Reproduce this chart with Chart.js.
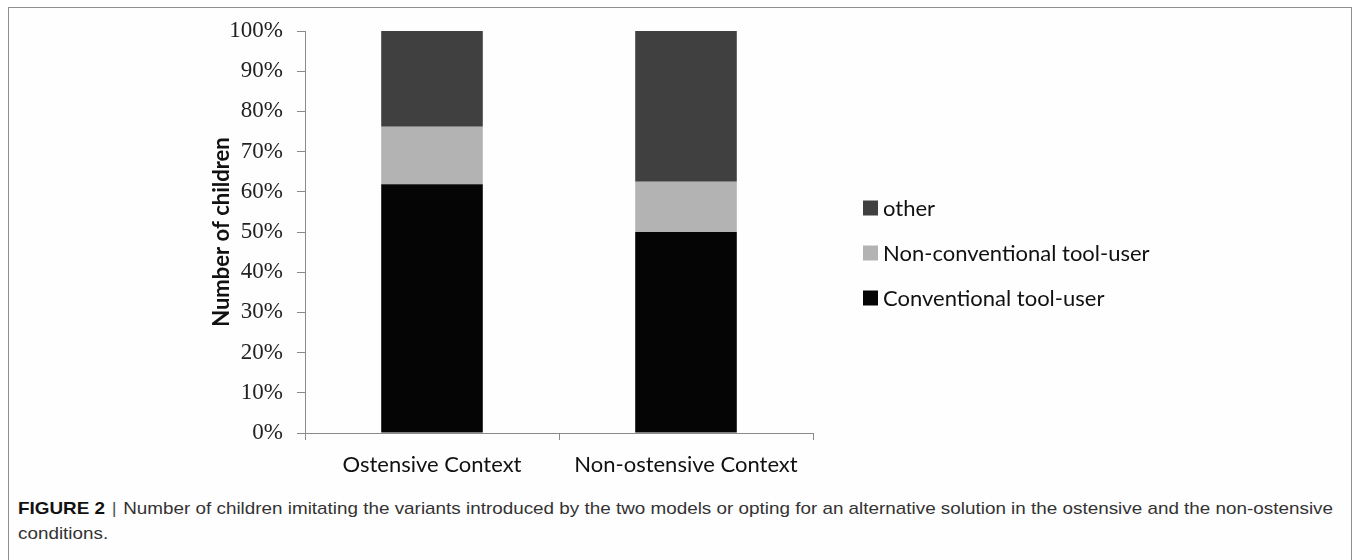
<!DOCTYPE html>
<html>
<head>
<meta charset="utf-8">
<script src="https://cdn.jsdelivr.net/npm/chart.js@4.4.1/dist/chart.umd.min.js"></script>
<style>
  html, body { margin: 0; padding: 0; background: #ffffff; width: 1354px; height: 560px; overflow: hidden; }
  #frame { position: absolute; left: 8px; top: 7px; width: 1344px; height: 600px; border: 1px solid #8f8f8f; background: #fefefe; box-sizing: border-box; }
  #chart { position: absolute; left: 0; top: 0; }
  #caption { position: absolute; left: 18px; top: 496px; font-family: "Liberation Sans Narrow", "Liberation Sans", Arial, sans-serif; font-size: 17px; line-height: 25px; color: #333; white-space: nowrap; transform-origin: 0 0; }
  #caption b { color: #111; }
  #caption .sep { color: #555; padding: 0 6px; }
</style>
</head>
<body>
<div id="frame"></div>
<canvas id="chart" width="1354" height="490"></canvas>
<div id="caption"><span id="line1"><b>FIGURE 2</b><span class="sep">|</span>Number of children imitating the variants introduced by the two models or opting for an alternative solution in the ostensive and the non-ostensive</span><br><span id="line2">conditions.</span></div>
<script>
// ---- data ----
const categories = ["Ostensive Context", "Non-ostensive Context"];
const seriesNames = ["Conventional tool-user", "Non-conventional tool-user", "other"];
const conventional = [61.9, 50.0];
const nonConventional = [14.3, 12.5];
const other = [23.8, 37.5];
const yTickValues = [0, 10, 20, 30, 40, 50, 60, 70, 80, 90, 100];
const yTitle = "Number of children";

// ---- styles ----
const colors = ["#050505", "#b3b3b3", "#404040"];
const axisColor = "#8a8a8a";

const legendPlugin = {
  id: "fixedLegend",
  afterDraw(chart) {
    const ctx = chart.ctx;
    const ds = chart.data.datasets;
    const x0 = 863, box = 15, yTop = 208, step = 45;
    ctx.save();
    ctx.font = "22px Lato, 'Open Sans', sans-serif";
    ctx.textBaseline = "middle";
    ctx.textAlign = "left";
    for (let k = 0; k < ds.length; k++) {
      const d = ds[ds.length - 1 - k];
      const yc = yTop + k * step;
      ctx.fillStyle = d.backgroundColor;
      ctx.fillRect(x0, yc - box / 2, box, box);
      ctx.fillStyle = "#111";
      ctx.fillText(d.label, x0 + box + 5, yc + 1);
    }
    ctx.restore();
  }
};

new Chart(document.getElementById("chart"), {
  type: "bar",
  data: {
    labels: categories,
    datasets: [
      { label: seriesNames[0], data: conventional, backgroundColor: colors[0] },
      { label: seriesNames[1], data: nonConventional, backgroundColor: colors[1] },
      { label: seriesNames[2], data: other, backgroundColor: colors[2] }
    ]
  },
  options: {
    responsive: false,
    animation: false,
    devicePixelRatio: 1,
    layout: { padding: { left: 198, top: 31, right: 541, bottom: 0 } },
    plugins: { legend: { display: false }, tooltip: { enabled: false } },
    datasets: { bar: { categoryPercentage: 1.0, barPercentage: 0.4, borderWidth: 0 } },
    scales: {
      x: {
        stacked: true,
        afterFit(scale) { scale.height = 57; },
        grid: { display: true, drawOnChartArea: false, drawTicks: true, tickLength: 7, color: axisColor, offset: true },
        border: { display: true, color: axisColor, width: 1 },
        ticks: { color: "#111", padding: 12, font: { family: "Lato, 'Open Sans', sans-serif", size: 22 }, maxRotation: 0 }
      },
      y: {
        stacked: true,
        min: 0, max: 100,
        afterFit(scale) { scale.width = 107; },
        afterBuildTicks(scale) { scale.ticks = yTickValues.map(v => ({ value: v })); },
        grid: { display: true, drawOnChartArea: false, drawTicks: true, tickLength: 8, color: axisColor },
        border: { display: true, color: axisColor, width: 1 },
        ticks: { color: "#222", padding: 14, font: { family: "'Liberation Serif', 'DejaVu Serif', serif", size: 23 }, callback: v => v + "%" },
        title: { display: true, text: yTitle, color: "#111", padding: { top: 11, bottom: 0 }, font: { family: "Lato, 'Open Sans', sans-serif", size: 22, weight: "bold" } }
      }
    }
  },
  plugins: [legendPlugin]
});

// fit caption first line to reference width
(function () {
  const l1 = document.getElementById("line1");
  const w = l1.getBoundingClientRect().width;
  const target = 1315;
  document.getElementById("caption").style.transform = "scaleX(" + (target / w) + ")";
})();
</script>
</body>
</html>
